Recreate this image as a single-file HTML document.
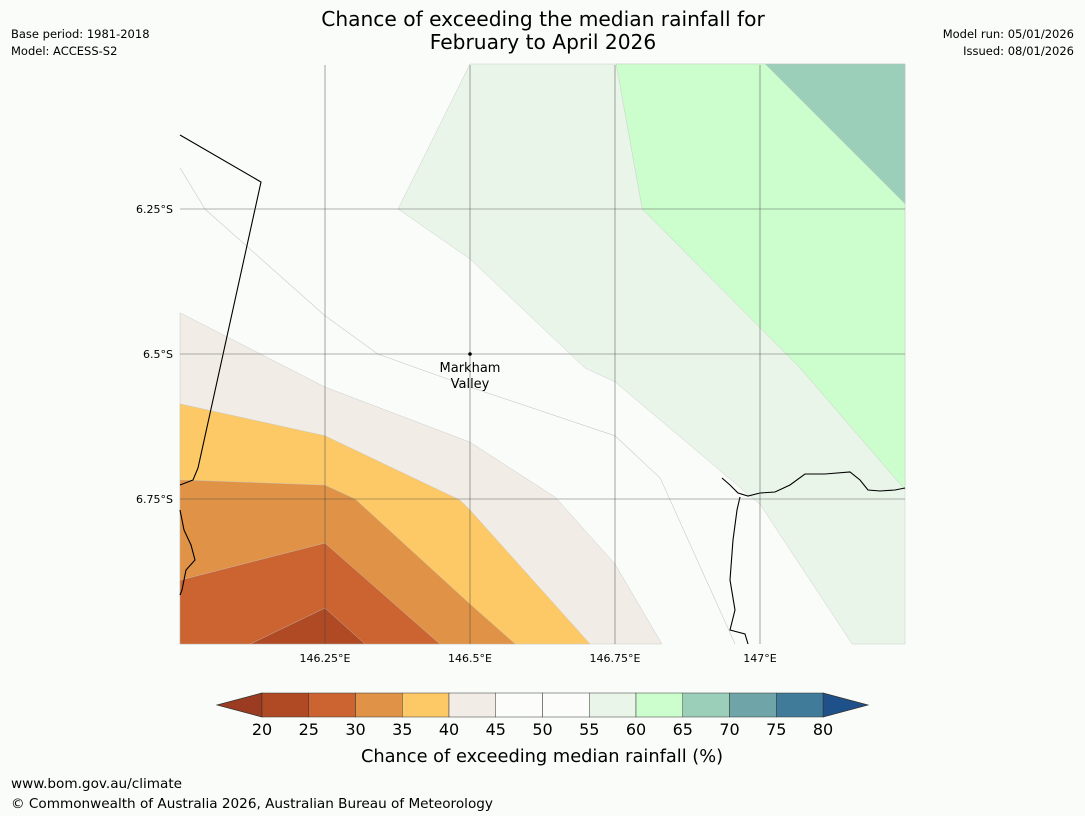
<!DOCTYPE html>
<html><head><meta charset="utf-8"><style>
body{margin:0;background:#fafcf9;font-family:"Liberation Sans","DejaVu Sans",sans-serif;}
svg{display:block}
</style></head><body>
<svg width="1085" height="816" xmlns="http://www.w3.org/2000/svg">
<rect width="1085" height="816" fill="#fafcf9"/>
<text x="543" y="26" text-anchor="middle" font-size="20.2" font-family="DejaVu Sans,sans-serif">Chance of exceeding the median rainfall for</text>
<text x="543" y="49" text-anchor="middle" font-size="20.2" font-family="DejaVu Sans,sans-serif">February to April 2026</text>
<text x="11" y="38" font-size="11.5" font-family="DejaVu Sans,sans-serif">Base period: 1981-2018</text>
<text x="11" y="55" font-size="11.5" font-family="DejaVu Sans,sans-serif">Model: ACCESS-S2</text>
<text x="1074" y="38" text-anchor="end" font-size="11.5" font-family="DejaVu Sans,sans-serif">Model run: 05/01/2026</text>
<text x="1074" y="55" text-anchor="end" font-size="11.5" font-family="DejaVu Sans,sans-serif">Issued: 08/01/2026</text>
<g id="map"></g>
<g id="cbar"></g>
<text x="542" y="762" text-anchor="middle" font-size="17.8" font-family="DejaVu Sans,sans-serif">Chance of exceeding median rainfall (%)</text>
<text x="11" y="788" font-size="13.6" font-family="DejaVu Sans,sans-serif">www.bom.gov.au/climate</text>
<text x="11" y="808" font-size="13.6" font-family="DejaVu Sans,sans-serif">© Commonwealth of Australia 2026, Australian Bureau of Meteorology</text>
</svg>
<script>
const levels=[20,25,30,35,40,45,50,55,60,65,70,75,80];
const binColors=["#b04a25","#cc6431","#e09347","#fdc966","#f1ece6","#fcfdfb","#fcfdfb","#eaf5ea","#ccfdcc","#9bcfb9","#6fa5a8","#407b9a"];
const underColor="#9a3b22", overColor="#1e5089";
const lonTicks=[146.25,146.5,146.75,147];
const latTicks=[6.25,6.5,6.75];
// contour regions as [lon, lat(S)] vertices
const regionLevels=[40,35,30,25,20,55,60,65];
const regionPolys=[
 [[146.0,6.429],[146.25,6.557],[146.5,6.652],[146.647,6.747],[146.75,6.862],[146.831,7.0],[146.0,7.0]],
 [[146.0,6.586],[146.25,6.641],[146.483,6.752],[146.5,6.769],[146.707,7.0],[146.0,7.0]],
 [[146.0,6.717],[146.25,6.726],[146.302,6.750],[146.5,6.931],[146.578,7.0],[146.0,7.0]],
 [[146.0,6.890],[146.25,6.826],[146.448,7.0],[146.0,7.0]],
 [[146.121,7.0],[146.25,6.938],[146.319,7.0]],
 [[146.376,6.25],[146.5,6.0],[147.25,6.0],[147.25,7.0],[147.159,7.0],[147.0,6.759],[146.75,6.548],[146.698,6.524],[146.5,6.336]],
 [[146.752,6.0],[147.25,6.0],[147.25,6.734],[147.069,6.524],[146.797,6.25]],
 [[147.009,6.0],[147.25,6.0],[147.25,6.241]]
];
const X=lon=>325+(lon-146.25)*580, Y=lat=>209+(lat-6.25)*580;
const NS="http://www.w3.org/2000/svg";
const map=document.getElementById('map');
function mk(tag,attrs,parent){const e=document.createElementNS(NS,tag);for(const k in attrs)e.setAttribute(k,attrs[k]);parent.appendChild(e);return e;}
const colorFor=v=>binColors[levels.indexOf(v)];
regionPolys.forEach((p,i)=>{
 const e=mk('polygon',{points:p.map(q=>X(q[0])+','+Y(q[1])).join(' '),fill:colorFor(regionLevels[i]),stroke:'#c0c4c0','stroke-width':0.4},map);
 
 
});
// faint contour line
const faint=[[146.0,6.179],[146.043,6.25],[146.25,6.434],[146.341,6.5],[146.5,6.557],[146.75,6.641],[146.828,6.714],[146.957,7.0]];
const fl=mk('polyline',{points:faint.map(q=>X(q[0])+','+Y(q[1])).join(' '),fill:'none',stroke:'#c8ccc8','stroke-width':0.6},map);


// coastlines
const coasts=[
 "180,135 261,182 198,468 193,480 180,485",
 "180,510 184,530 191,545 195,560 186,570 182,590 180,595",
 "722,478 730,485 738,493 748,496 760,493 775,492 790,485 805,474 825,474 850,472 860,480 868,490 880,491 895,490 905,488",
 "740,497 737,510 733,540 730,580 735,610 730,630 745,634 748,644"
];
coasts.forEach((c,i)=>{const e=mk('polyline',{points:c,fill:'none',stroke:'#000','stroke-width':1.1},map);
 
 });
// gridlines & labels
lonTicks.forEach(l=>{const x=X(l);
 const g=mk('line',{x1:x,y1:65,x2:x,y2:644,stroke:'#444','stroke-width':0.6,'stroke-opacity':0.8},map);
 
 
 const t=mk('text',{x:x,y:662,'text-anchor':'middle','font-size':11,'font-family':'DejaVu Sans,sans-serif'},map);t.textContent=l+'°E';
 
 });
latTicks.forEach(l=>{const y=Y(l);
 const g=mk('line',{x1:180,y1:y,x2:905,y2:y,stroke:'#444','stroke-width':0.6,'stroke-opacity':0.8},map);
 
 
 const t=mk('text',{x:173,y:y+4,'text-anchor':'end','font-size':11,'font-family':'DejaVu Sans,sans-serif'},map);t.textContent=l+'°S';
 
 });
const dot=mk('circle',{cx:X(146.5),cy:Y(6.5),r:1.8,fill:'#000'},map);


['Markham','Valley'].forEach((w,i)=>{const t=mk('text',{x:470,y:372+i*16,'text-anchor':'middle','font-size':13,'font-family':'DejaVu Sans,sans-serif'},map);t.textContent=w;
 
 });
// colorbar
const cb=document.getElementById('cbar');
const cx=v=>262+(v-20)*(823-262)/60;
const y0=693,y1=717;
const lt=mk('polygon',{points:`217,705 ${cx(20)},${y0} ${cx(20)},${y1}`,fill:underColor,stroke:'#333','stroke-width':0.7},cb);


const rt=mk('polygon',{points:`868,705 ${cx(80)},${y0} ${cx(80)},${y1}`,fill:overColor,stroke:'#333','stroke-width':0.7},cb);


binColors.forEach((c,i)=>{const r=mk('rect',{x:cx(levels[i]),y:y0,width:cx(levels[i+1])-cx(levels[i]),height:y1-y0,fill:c,stroke:'#333','stroke-width':0.5},cb);
 
 });
levels.forEach(v=>{const t=mk('text',{x:cx(v),y:735,'text-anchor':'middle','font-size':16,'font-family':'DejaVu Sans,sans-serif'},cb);t.textContent=v;
 
 });
</script>
</body></html>
